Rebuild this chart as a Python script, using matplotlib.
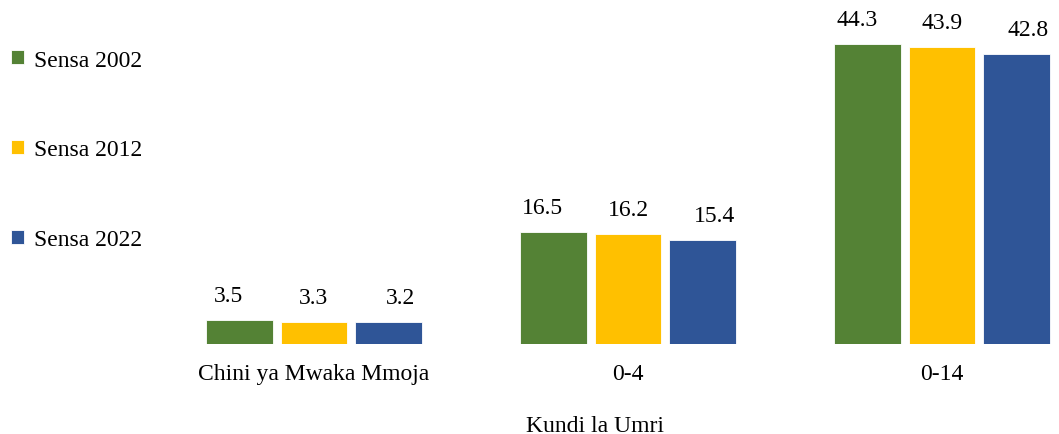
import numpy as np
import matplotlib.pyplot as plt

plt.rcParams['font.family'] = ['Liberation Serif', 'DejaVu Serif']

# makundi ya umri na asilimia kwa kila sensa
categories = ['Chini ya Mwaka Mmoja', '0-4', '0-14']
sensa_2002 = [3.5, 16.5, 44.3]
sensa_2012 = [3.3, 16.2, 43.9]
sensa_2022 = [3.2, 15.4, 42.8]
series_names = ['Sensa 2002', 'Sensa 2012', 'Sensa 2022']
colors = ['#548235', '#FFC000', '#2F5597']

W, H = 1059, 435
fig = plt.figure(figsize=(W / 100, H / 100), dpi=100)
ax = fig.add_axes([157 / W, 90 / H, (W - 157) / W, (H - 90) / H])

x = np.arange(len(categories))
width = 0.213
step = 0.236
label_dx = [-11, 0, 12]  # px, small shift of data labels like in the original

series = [sensa_2002, sensa_2012, sensa_2022]
for i, (vals, name, c) in enumerate(zip(series, series_names, colors)):
    pos = x + (i - 1) * step
    bars = ax.bar(pos, vals, width, color=c, label=name,
                  edgecolor='white', linewidth=0.6)
    for b, v in zip(bars, vals):
        ax.annotate(f'{v}', (b.get_x() + b.get_width() / 2, v),
                    xytext=(label_dx[i] * 0.72, 10), textcoords='offset points',
                    ha='center', va='bottom', fontsize=17)

ax.set_xlim(-0.5, -0.5 + (W - 157) / 314)
ax.set_ylim(0, 345 / (300 / 44.3))
ax.set_xticks(x)
ax.set_xticklabels(categories, fontsize=17)
ax.tick_params(axis='x', length=0, pad=13.5)
ax.set_yticks([])
for s in ax.spines.values():
    s.set_visible(False)

fig.text(595 / W, 3 / H, 'Kundi la Umri', ha='center', va='baseline', fontsize=17)

fig.legend(loc='upper left', bbox_to_anchor=(-6 / W, 1 - 34 / H), frameon=False,
           fontsize=17, handlelength=0.55, handleheight=0.5, handletextpad=0.45,
           labelspacing=2.92, borderaxespad=0.3)

fig.savefig('out.png', dpi=100)
